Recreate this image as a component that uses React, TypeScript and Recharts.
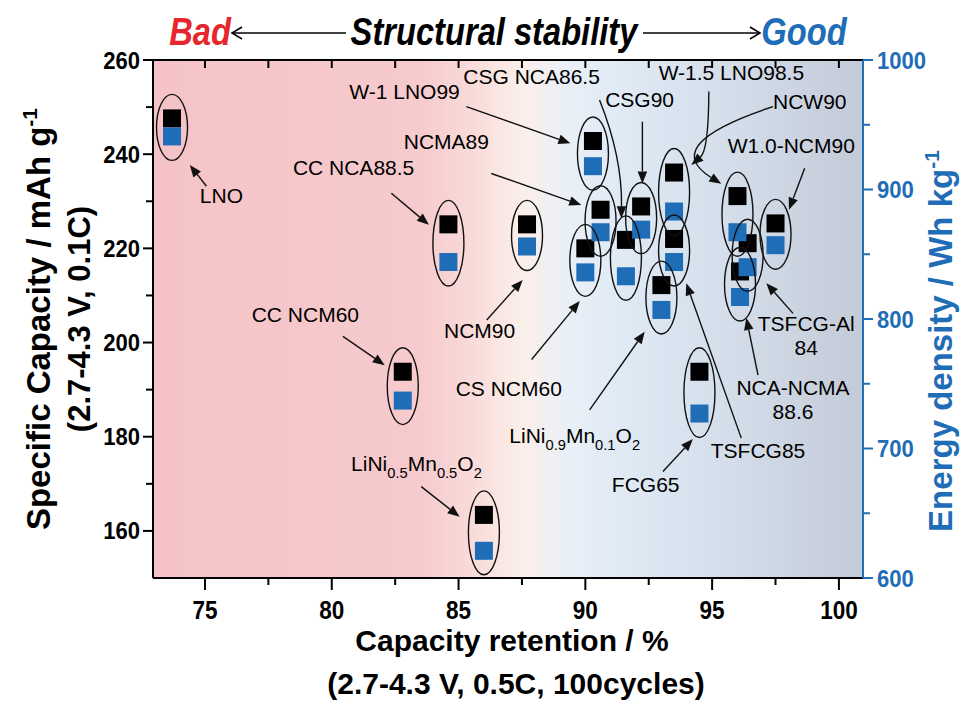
import React from 'react';
import { ScatterChart, Scatter, XAxis, YAxis, ReferenceArea, ReferenceLine } from 'recharts';

// ---------------- data ----------------
const materials = [
  'LNO', 'CC NCA88.5', 'NCM90', 'CC NCM60', 'LiNi0.5Mn0.5O2', 'W-1 LNO99', 'NCMA89', 'CS NCM60',
  'CSG NCA86.5', 'CSG90', 'W-1.5 LNO98.5', 'TSFCG85', 'LiNi0.9Mn0.1O2', 'FCG65', 'NCW90',
  'NCA-NCMA 88.6', 'TSFCG-Al 84', 'W1.0-NCM90',
];
const retention = [73.7, 84.6, 87.7, 82.8, 86.0, 90.3, 90.6, 90.0, 91.6, 92.2, 93.5, 93.5, 93.0, 94.5, 96.0, 96.1, 96.4, 97.5];
const capacity = [247.6, 225.1, 225.1, 193.8, 163.4, 242.8, 228.2, 220.0, 221.8, 228.9, 236.1, 222.0, 212.2, 193.8, 231.1, 215.1, 221.1, 225.3];
const energy = [941, 844, 856, 737, 621, 918, 867, 836, 833, 869, 883, 844, 807, 727, 867, 817, 840, 857];

const xTicks = [75, 77.5, 80, 82.5, 85, 87.5, 90, 92.5, 95, 97.5, 100];
const capTicks = [160, 170, 180, 190, 200, 210, 220, 230, 240, 250, 260];
const enTicks = [600, 650, 700, 750, 800, 850, 900, 950, 1000];

// annotation labels (data coordinates: retention %, capacity)
const labelTexts = [
  'LNO', 'CC NCA88.5', 'W-1 LNO99', 'NCMA89', 'CSG NCA86.5', 'CSG90', 'W-1.5 LNO98.5', 'NCW90',
  'W1.0-NCM90', 'NCM90', 'CS NCM60', 'LiNi{0.9}Mn{0.1}O{2}', 'TSFCG85', 'FCG65', 'NCA-NCMA\n88.6',
  'TSFCG-Al\n84', 'CC NCM60', 'LiNi{0.5}Mn{0.5}O{2}',
];
const labelX = [75.65, 80.86, 82.87, 84.52, 87.88, 92.14, 95.76, 98.85, 98.12, 85.83, 86.98, 89.58, 96.81, 92.38, 98.19, 98.71, 78.96, 83.34];
const labelY = [229.6, 235.6, 251.7, 241.0, 254.9, 250.1, 255.8, 249.7, 240.2, 201.0, 188.7, 178.7, 175.4, 168.3, 186.4, 200.0, 204.4, 172.8];
const arrowX1 = [75.06, 82.35, 85.31, 86.29, 90.56, 92.25, 94.87, 97.40, 98.65, 86.11, 87.88, 90.17, 96.15, 93.06, 96.81, 98.19, 80.44, 83.53];
const arrowY1 = [233.2, 231.7, 250.1, 235.9, 251.5, 246.9, 253.3, 250.1, 237.0, 204.8, 196.4, 185.7, 179.7, 172.6, 193.1, 206.2, 201.3, 169.4];
const arrowX2 = [74.40, 83.83, 89.41, 89.84, 91.42, 92.25, 94.18, 95.36, 98.03, 87.53, 89.78, 92.34, 93.98, 94.24, 96.35, 97.14, 82.09, 85.04];
const arrowY2 = [237.7, 225.0, 242.3, 229.2, 226.4, 233.8, 237.7, 233.7, 228.2, 213.3, 208.8, 202.3, 212.6, 179.5, 205.2, 212.6, 195.2, 163.0];
const arrowAlong = [0, 0, 0, 0, 0, 0, 0.253, 0.525, 0, 0, 0, 0, 0, 0, 0, 0, 0, 0];
const arrowBend = [0, 0, 0, 0, -0.1, 0, -0.177, 0.8, 0, 0, 0, 0, 0, 0, 0, 0, 0, 0];

// ---------------- layout ----------------
const W = 964;
const H = 703;
const TOP = 60;
const BOTTOM_AX = 125;
const LEFT_AX = 153;
const RIGHT_AX = 101;
const X_DOMAIN: [number, number] = [72.95, 100.95];
const CAP_DOMAIN: [number, number] = [150, 260];
const EN_DOMAIN: [number, number] = [600, 1000];
const PLOT_H = H - TOP - BOTTOM_AX;
const PPU = PLOT_H / (CAP_DOMAIN[1] - CAP_DOMAIN[0]);

const FONT = "'Liberation Sans', Arial, Helvetica, sans-serif";
const BLUE = '#1f6db6';
const RED = '#e5262c';
const SQ = 18;
const LABEL_SIZE = 21;

const toCapUnits = (e: number) =>
  CAP_DOMAIN[0] + ((e - EN_DOMAIN[0]) * (CAP_DOMAIN[1] - CAP_DOMAIN[0])) / (EN_DOMAIN[1] - EN_DOMAIN[0]);

const blackData = materials.map((m, i) => ({ name: m, x: retention[i], y: capacity[i] }));
const blueData = materials.map((m, i) => ({ name: m, x: retention[i], y: energy[i] }));
const ellipseData = materials.map((m, i) => {
  const e = toCapUnits(energy[i]);
  return { name: m, x: retention[i], y: (capacity[i] + e) / 2, half: Math.abs(capacity[i] - e) / 2 };
});
const labelData = labelTexts.map((t, i) => ({ text: t, x: labelX[i], y: labelY[i] }));

// ---------------- helpers ----------------
function RichLine({ x, y, text, size }: { x: number; y: number; text: string; size: number }) {
  const parts = text.split(/(\{[^}]*\})/).filter((s) => s.length > 0);
  let shifted = false;
  const spans: React.ReactNode[] = [];
  parts.forEach((part, i) => {
    if (part.startsWith('{')) {
      spans.push(
        <tspan key={i} dy={shifted ? 0 : 7} fontSize={size * 0.7}>
          {part.slice(1, -1)}
        </tspan>
      );
      shifted = true;
    } else {
      spans.push(
        <tspan key={i} dy={shifted ? -7 : 0}>
          {part}
        </tspan>
      );
      shifted = false;
    }
  });
  return (
    <text x={x} y={y} textAnchor="middle" dy="0.36em" fontFamily={FONT} fontSize={size} fill="#000">
      {spans}
    </text>
  );
}

function AnnotationLabel(p: any) {
  const { cx, cy, payload } = p;
  const lines: string[] = String(payload.text).split('\n');
  const lh = 24;
  const y0 = cy - ((lines.length - 1) * lh) / 2;
  return (
    <g>
      {lines.map((ln, i) => (
        <RichLine key={i} x={cx} y={y0 + i * lh} text={ln} size={LABEL_SIZE} />
      ))}
    </g>
  );
}

function makeArrow(a: number, b: number) {
  return (p: any) => {
    const { x1, y1, x2, y2 } = p;
    const dx = x2 - x1;
    const dy = y2 - y1;
    const mx = (x1 + x2) / 2;
    const my = (y1 + y2) / 2;
    const curved = a !== 0 || b !== 0;
    const cxp = mx + a * dx - b * dy;
    const cyp = my + a * dy + b * dx;
    const tx = curved ? x2 - cxp : dx;
    const ty = curved ? y2 - cyp : dy;
    const len = Math.hypot(tx, ty) || 1;
    const ux = tx / len;
    const uy = ty / len;
    const hl = 12;
    const hw = 4.8;
    const bx = x2 - ux * hl;
    const by = y2 - uy * hl;
    const d = curved ? `M${x1},${y1} Q${cxp},${cyp} ${bx},${by}` : `M${x1},${y1} L${bx},${by}`;
    return (
      <g>
        <path d={d} fill="none" stroke="#111" strokeWidth={1.4} />
        <polygon points={`${x2},${y2} ${bx - uy * hw},${by + ux * hw} ${bx + uy * hw},${by - ux * hw}`} fill="#111" />
      </g>
    );
  };
}

function BottomTick(p: any) {
  const { x, y, payload } = p;
  const v = payload.value;
  const major = Math.abs(v % 5) < 1e-6;
  return (
    <g>
      <line x1={x} x2={x} y1={y} y2={y + (major ? 12 : 7)} stroke="#000" strokeWidth={2} />
      {major && (
        <text
          transform={`translate(${x}, ${y + 41}) scale(0.9, 1)`}
          textAnchor="middle"
          fontFamily={FONT}
          fontWeight="bold"
          fontSize={25}
          fill="#000"
        >
          {v}
        </text>
      )}
    </g>
  );
}

function TopTick(p: any) {
  const { x, y } = p;
  return <line x1={x} x2={x} y1={y} y2={y + 8} stroke="#000" strokeWidth={2} />;
}

function LeftTick(p: any) {
  const { x, y, payload } = p;
  const v = payload.value;
  const major = v % 20 === 0;
  return (
    <g>
      <line x1={x} x2={x - (major ? 10 : 7)} y1={y} y2={y} stroke="#000" strokeWidth={2} />
      {major && (
        <text
          transform={`translate(${x - 13}, ${y + 8.5}) scale(0.92, 1)`}
          textAnchor="end"
          fontFamily={FONT}
          fontWeight="bold"
          fontSize={24}
          fill="#000"
        >
          {v}
        </text>
      )}
    </g>
  );
}

function RightTick(p: any) {
  const { x, y, payload } = p;
  const v = payload.value;
  const major = v % 100 === 0;
  return (
    <g>
      <line x1={x} x2={x + (major ? 10 : 7)} y1={y} y2={y} stroke={BLUE} strokeWidth={2} />
      {major && (
        <text
          transform={`translate(${x + 14}, ${y + 8.5}) scale(0.92, 1)`}
          textAnchor="start"
          fontFamily={FONT}
          fontWeight="bold"
          fontSize={24}
          fill={BLUE}
        >
          {v}
        </text>
      )}
    </g>
  );
}

function Background(p: any) {
  const { x, y, width, height } = p;
  return (
    <g>
      <defs>
        <linearGradient id="bgGrad" x1="0" y1="0" x2="1" y2="0">
          <stop offset="0" stopColor="#f5c3c7" />
          <stop offset="0.38" stopColor="#f6cbcd" />
          <stop offset="0.46" stopColor="#f9dedb" />
          <stop offset="0.52" stopColor="#fbefea" />
          <stop offset="0.58" stopColor="#eaf0f7" />
          <stop offset="0.66" stopColor="#dfeaf5" />
          <stop offset="0.8" stopColor="#d5dfeb" />
          <stop offset="1" stopColor="#c3cad8" />
        </linearGradient>
      </defs>
      <rect x={x} y={y} width={width} height={height} fill="url(#bgGrad)" />
    </g>
  );
}

function Titles() {
  const cyMid = TOP + PLOT_H / 2;
  const head = (x: number, color: string, txt: string) => (
    <text
      transform={`translate(${x}, 45) scale(0.86, 1)`}
      textAnchor="middle"
      fontWeight="bold"
      fontStyle="italic"
      fontSize={38}
      fill={color}
    >
      {txt}
    </text>
  );
  return (
    <g fontFamily={FONT}>
      {/* header */}
      {head(200, RED, 'Bad')}
      {head(494, '#000', 'Structural stability')}
      {head(804, BLUE, 'Good')}
      <line x1={232} x2={346} y1={33} y2={33} stroke="#000" strokeWidth={1.6} />
      <polyline points="242,27 232,33 242,39" fill="none" stroke="#000" strokeWidth={1.6} />
      <line x1={643} x2={760} y1={33} y2={33} stroke="#000" strokeWidth={1.6} />
      <polyline points="750,27 760,33 750,39" fill="none" stroke="#000" strokeWidth={1.6} />

      {/* left title */}
      <g transform={`rotate(-90, 38, ${cyMid})`}>
        <text x={38} y={cyMid} dy="0.36em" textAnchor="middle" fontWeight="bold" fontSize={33} fill="#000">
          <tspan>Specific Capacity / mAh g</tspan>
          <tspan dy={-13} fontSize={21}>-1</tspan>
        </text>
      </g>
      <g transform={`rotate(-90, 79, ${cyMid})`}>
        <text x={79} y={cyMid} dy="0.36em" textAnchor="middle" fontWeight="bold" fontSize={31} fill="#000">
          (2.7-4.3 V, 0.1C)
        </text>
      </g>

      {/* right title */}
      <g transform={`rotate(-90, 940, ${cyMid + 22})`}>
        <text x={940} y={cyMid + 22} dy="0.36em" textAnchor="middle" fontWeight="bold" fontSize={33} fill={BLUE}>
          <tspan>Energy density / Wh kg</tspan>
          <tspan dy={-13} fontSize={21}>-1</tspan>
        </text>
      </g>

      {/* bottom title */}
      <text x={512} y={640} dy="0.36em" textAnchor="middle" fontWeight="bold" fontSize={30} fill="#000">
        Capacity retention / %
      </text>
      <text x={516} y={683} dy="0.36em" textAnchor="middle" fontWeight="bold" fontSize={30} fill="#000">
        (2.7-4.3 V, 0.5C, 100cycles)
      </text>
    </g>
  );
}

export default function App() {
  return (
    <div style={{ position: 'absolute', left: 0, top: 0, width: W, height: H, background: '#fff' }}>
      <ScatterChart width={W} height={H} margin={{ top: TOP - 30, right: 0, bottom: 0, left: 0 }}>
        <XAxis
          xAxisId="t"
          orientation="top"
          type="number"
          dataKey="x"
          domain={X_DOMAIN}
          allowDataOverflow
          ticks={xTicks}
          interval={0}
          height={30}
          tickSize={0}
          tickMargin={0}
          tickLine={false}
          tick={(p: any) => <TopTick {...p} />}
          axisLine={{ stroke: '#000', strokeWidth: 2 }}
        />
        <XAxis
          xAxisId="b"
          orientation="bottom"
          type="number"
          dataKey="x"
          domain={X_DOMAIN}
          allowDataOverflow
          ticks={xTicks}
          interval={0}
          height={BOTTOM_AX}
          tickSize={0}
          tickMargin={0}
          tickLine={false}
          tick={(p: any) => <BottomTick {...p} />}
          axisLine={{ stroke: '#000', strokeWidth: 2 }}
        />
        <YAxis
          yAxisId="l"
          orientation="left"
          type="number"
          dataKey="y"
          domain={CAP_DOMAIN}
          allowDataOverflow
          ticks={capTicks}
          interval={0}
          width={LEFT_AX}
          tickSize={0}
          tickMargin={0}
          tickLine={false}
          tick={(p: any) => <LeftTick {...p} />}
          axisLine={{ stroke: '#000', strokeWidth: 2 }}
        />
        <YAxis
          yAxisId="r"
          orientation="right"
          type="number"
          dataKey="y"
          domain={EN_DOMAIN}
          allowDataOverflow
          ticks={enTicks}
          interval={0}
          width={RIGHT_AX}
          tickSize={0}
          tickMargin={0}
          tickLine={false}
          tick={(p: any) => <RightTick {...p} />}
          axisLine={{ stroke: BLUE, strokeWidth: 2 }}
        />

        <ReferenceArea
          xAxisId="b"
          yAxisId="l"
          x1={X_DOMAIN[0]}
          x2={X_DOMAIN[1]}
          y1={CAP_DOMAIN[0]}
          y2={CAP_DOMAIN[1]}
          ifOverflow="visible"
          shape={(p: any) => <Background {...p} />}
        />

        <Scatter
          name="Capacity"
          data={blackData}
          xAxisId="b"
          yAxisId="l"
          isAnimationActive={false}
          shape={(p: any) => <rect x={p.cx - SQ / 2} y={p.cy - SQ / 2} width={SQ} height={SQ} fill="#000" />}
        />
        <Scatter
          name="Energy density"
          data={blueData}
          xAxisId="b"
          yAxisId="r"
          isAnimationActive={false}
          shape={(p: any) => <rect x={p.cx - SQ / 2} y={p.cy - SQ / 2} width={SQ} height={SQ} fill={BLUE} />}
        />
        <Scatter
          name="groups"
          data={ellipseData}
          xAxisId="b"
          yAxisId="l"
          isAnimationActive={false}
          shape={(p: any) => (
            <ellipse cx={p.cx} cy={p.cy} rx={15.5} ry={p.payload.half * PPU + 24} fill="none" stroke="#111" strokeWidth={1.4} />
          )}
        />

        {labelTexts.map((t, i) => (
          <ReferenceLine
            key={'arr' + i}
            xAxisId="b"
            yAxisId="l"
            ifOverflow="visible"
            segment={[
              { x: arrowX1[i], y: arrowY1[i] },
              { x: arrowX2[i], y: arrowY2[i] },
            ]}
            shape={makeArrow(arrowAlong[i], arrowBend[i])}
          />
        ))}

        <Scatter
          name="labels"
          data={labelData}
          xAxisId="b"
          yAxisId="l"
          isAnimationActive={false}
          shape={(p: any) => <AnnotationLabel {...p} />}
        />

        <Titles />
      </ScatterChart>
    </div>
  );
}
